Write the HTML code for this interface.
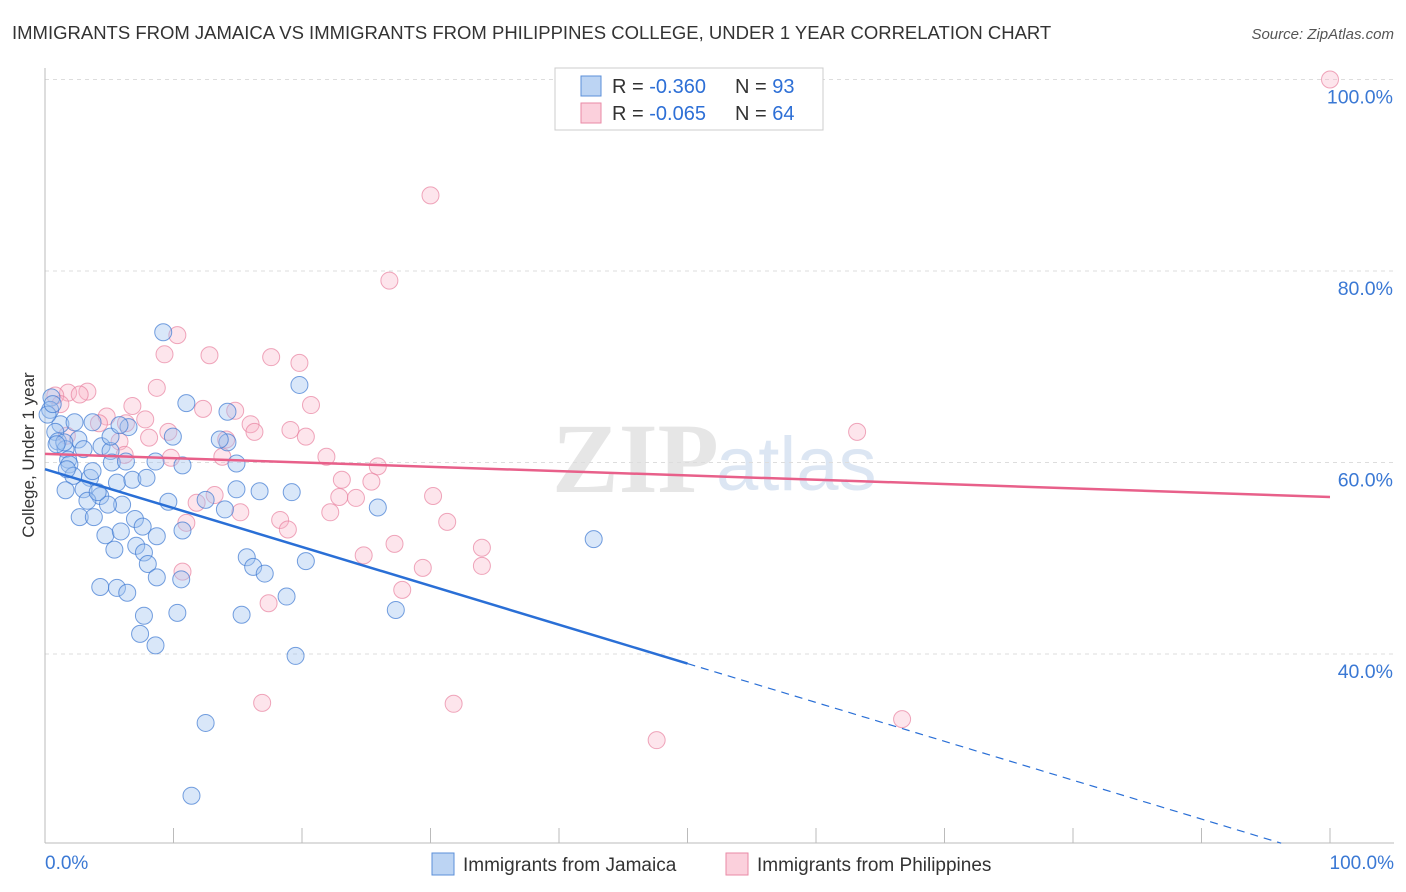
<!DOCTYPE html>
<html><head><meta charset="utf-8">
<style>
body{margin:0;background:#fff;font-family:"Liberation Sans",sans-serif;}
#wrap{position:relative;width:1406px;height:892px;overflow:hidden;}
</style></head>
<body>
<div id="wrap">
<svg id="svg" width="1406" height="892" xmlns="http://www.w3.org/2000/svg">
<text x="12" y="39" font-size="18.5" fill="#333">IMMIGRANTS FROM JAMAICA VS IMMIGRANTS FROM PHILIPPINES COLLEGE, UNDER 1 YEAR CORRELATION CHART</text>
<text x="1394" y="39" font-size="15" fill="#555" font-style="italic" text-anchor="end">Source: ZipAtlas.com</text>
<text x="552" y="492" font-size="100" fill="#e6e6e6" font-family="Liberation Serif" font-weight="bold">ZIP</text>
<text x="716" y="490" font-size="76" fill="#dce6f3">atlas</text>
<text transform="translate(34,455) rotate(-90)" font-size="17" fill="#333" text-anchor="middle">College, Under 1 year</text>
<g id="grid"></g><g id="pts"></g><g id="lines"></g>
<g>
<rect x="555" y="68" width="268" height="62" fill="#fff" stroke="#ccc"/>
<rect x="581" y="76" width="20" height="20" fill="#bcd4f3" stroke="#5b8fd8"/>
<rect x="581" y="103" width="20" height="20" fill="#fbd0dc" stroke="#e98aa6"/>
<text x="612" y="93" font-size="20" fill="#333">R = <tspan fill="#2d6fd6">-0.360</tspan></text>
<text x="735" y="93" font-size="20" fill="#333">N = <tspan fill="#2d6fd6">93</tspan></text>
<text x="612" y="120" font-size="20" fill="#333">R = <tspan fill="#2d6fd6">-0.065</tspan></text>
<text x="735" y="120" font-size="20" fill="#333">N = <tspan fill="#2d6fd6">64</tspan></text>
</g>
<g>
<rect x="432" y="853" width="22" height="22" fill="#bcd4f3" stroke="#5b8fd8"/>
<text x="463" y="871" font-size="19" fill="#333">Immigrants from Jamaica</text>
<rect x="726" y="853" width="22" height="22" fill="#fbd0dc" stroke="#e98aa6"/>
<text x="757" y="871" font-size="19" fill="#333">Immigrants from Philippines</text>
</g>
</svg>
</div>
<script>
const yTicks=[40,60,80,100];
const yTickLabels=["40.0%","60.0%","80.0%","100.0%"];
const xTickLabels=["0.0%","100.0%"];
const jamX=[9.2,19.8,11.0,14.2,0.5,0.4,1.2,2.3,3.7,6.5,9.95,14.2,0.8,1.0,2.6,1.6,3.0,4.4,5.1,1.8,1.9,5.2,6.3,8.6,10.7,2.2,3.5,3.7,5.6,6.8,7.9,1.6,3.0,4.3,3.3,6.0,4.9,9.6,12.5,14.9,16.7,19.2,25.9,14.0,2.7,3.8,7.0,7.6,10.7,4.7,5.9,8.7,7.1,5.4,7.7,15.7,20.3,8.0,16.2,17.1,8.7,10.6,4.3,5.6,6.4,18.8,27.3,7.7,10.3,15.3,7.4,8.6,19.5,12.5,11.4,42.7,5.1,1.5,0.2,0.6,13.6,14.9,1.7,0.9,4.1,5.8];
const jamY=[73.6,68.1,66.2,65.3,66.8,65.5,64.0,64.2,64.2,63.7,62.7,62.1,63.2,62.2,62.4,61.4,61.4,61.7,61.2,60.3,59.8,60.0,60.1,60.1,59.7,58.6,58.4,59.1,57.9,58.2,58.4,57.1,57.2,56.5,56.0,55.6,55.6,55.9,56.1,57.2,57.0,56.9,55.3,55.1,54.3,54.3,54.1,53.3,52.9,52.4,52.8,52.3,51.3,50.9,50.6,50.1,49.7,49.4,49.1,48.4,48.0,47.8,47.0,46.9,46.4,46.0,44.6,44.0,44.3,44.1,42.1,40.9,39.8,32.8,25.2,52.0,62.7,62.1,65.0,66.1,62.4,59.9,59.3,61.9,56.9,63.9];
const phiX=[100,30.0,26.8,10.3,9.3,12.8,17.6,19.8,8.7,3.3,1.8,2.7,0.8,1.2,6.8,20.7,12.3,14.8,4.8,7.8,16.0,4.2,6.3,16.3,19.1,9.6,8.1,20.3,63.2,5.8,14.1,1.7,13.8,6.2,21.9,9.8,25.9,23.1,25.4,22.9,24.2,30.2,13.2,11.8,15.2,22.2,11.0,18.3,31.3,18.9,27.2,34.0,24.8,29.4,34.0,10.7,27.8,17.4,16.9,31.8,66.7,47.6];
const phiY=[100,87.9,79.0,73.3,71.3,71.2,71.0,70.4,67.8,67.4,67.3,67.1,67.0,66.1,65.9,66.0,65.6,65.4,64.8,64.5,64.0,64.1,64.1,63.2,63.4,63.2,62.6,62.7,63.2,62.2,62.4,62.8,60.6,60.8,60.6,60.5,59.6,58.2,58.0,56.4,56.3,56.5,56.6,55.8,54.8,54.8,53.7,54.0,53.8,53.0,51.5,51.1,50.3,49.0,49.2,48.6,46.7,45.3,34.9,34.8,33.2,31.0];
const jamTrend=[59.3,18.7]; // y at x=0, y at x=100
const phiTrend=[60.9,56.4];
const sx=v=>45+v*12.85;
const sy=v=>79.5+(100-v)*9.575;
const NS="http://www.w3.org/2000/svg";
function mk(tag,attrs,parent){const e=document.createElementNS(NS,tag);for(const k in attrs)e.setAttribute(k,attrs[k]);parent.appendChild(e);return e;}
const grid=document.getElementById('grid');
yTicks.forEach((t,i)=>{
  const l=mk('line',{x1:45,x2:1394,y1:sy(t),y2:sy(t),stroke:'#ddd','stroke-dasharray':'4,4'},grid);
  
  
  const tx=mk('text',{x:1393,y:sy(t)+24,'font-size':19.5,fill:'#3a78d4','text-anchor':'end'},grid);
  tx.textContent=yTickLabels[i];
  
  
});
const ax=mk('line',{x1:45,x2:45,y1:68,y2:843,stroke:'#bbb'},grid);


const bx=mk('line',{x1:45,x2:1394,y1:843,y2:843,stroke:'#bbb'},grid);


for(let i=1;i<=10;i++){
  const t=mk('line',{x1:sx(i*10),x2:sx(i*10),y1:828,y2:843,stroke:'#bbb'},grid);
  
  
}
[[0,'start',45],[100,'end',1394]].forEach((a,i)=>{
  const tx=mk('text',{x:a[2],y:869,'font-size':19,fill:'#3a78d4','text-anchor':a[1]},grid);
  tx.textContent=xTickLabels[i];
  
  
});
const pts=document.getElementById('pts');
phiX.forEach((v,i)=>{
  const c=mk('circle',{cx:sx(v),cy:sy(phiY[i]),r:8.5,fill:'rgba(248,180,200,0.35)',stroke:'rgba(232,130,160,0.7)','stroke-width':1},pts);
  
  
});
jamX.forEach((v,i)=>{
  const c=mk('circle',{cx:sx(v),cy:sy(jamY[i]),r:8.5,fill:'rgba(160,195,240,0.4)',stroke:'rgba(60,120,210,0.7)','stroke-width':1},pts);
  
  
});
const lines=document.getElementById('lines');
const jy=x=>jamTrend[0]+(jamTrend[1]-jamTrend[0])*x/100;
const py=x=>phiTrend[0]+(phiTrend[1]-phiTrend[0])*x/100;
const pl=mk('line',{x1:sx(0),y1:sy(py(0)),x2:sx(100),y2:sy(py(100)),stroke:'#e8608a','stroke-width':2.5},lines);


const jl=mk('line',{x1:sx(0),y1:sy(jy(0)),x2:sx(50),y2:sy(jy(50)),stroke:'#2a6fd6','stroke-width':2.5},lines);


const xr=(()=>{let x=50;while(x<100&&sy(jy(x))<843)x+=0.1;return x;})();
const jd=mk('line',{x1:sx(50),y1:sy(jy(50)),x2:sx(xr),y2:sy(jy(xr)),stroke:'#2a6fd6','stroke-width':1.2,'stroke-dasharray':'8,6'},lines);


</script>
</body></html>
